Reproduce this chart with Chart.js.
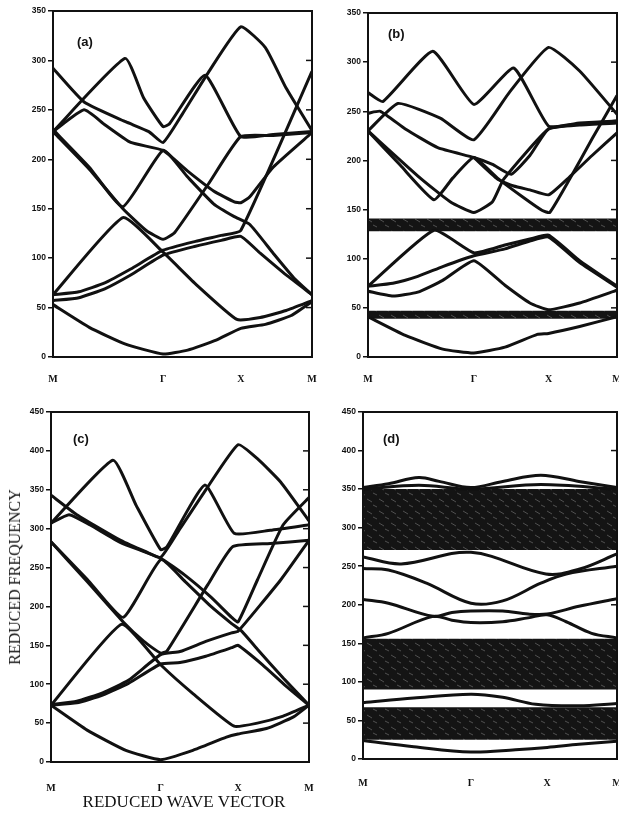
<!DOCTYPE html>
<html>
<head>
<meta charset="utf-8">
<script src="https://cdn.jsdelivr.net/npm/chart.js@4"></script>
<style>
  body { margin: 0; background: #fff; }
  #wrap { position: relative; width: 619px; height: 818px; overflow: hidden; background: #fff; }
  canvas { position: absolute; }
  .axt { position: absolute; font: 16px "Liberation Serif", serif; color: #111; white-space: nowrap; }
</style>
</head>
<body>
<div id="wrap">
  <canvas id="ca" width="300" height="390" style="left:20px;top:0px"></canvas>
  <canvas id="cb" width="289" height="390" style="left:330px;top:0px"></canvas>
  <canvas id="cc" width="300" height="400" style="left:20px;top:400px"></canvas>
  <canvas id="cd" width="289" height="400" style="left:330px;top:400px"></canvas>
  <div class="axt" style="left:15px;top:577px;transform:translate(-50%,-50%) rotate(-90deg)">REDUCED FREQUENCY</div>
  <div class="axt" style="left:184px;top:802px;font-size:17px;transform:translate(-50%,-50%)">REDUCED WAVE VECTOR</div>
</div>
<script>
// k-path (M - Γ - X - M), positions along the reduced wave vector
const kLabels = ['M', 'Γ', 'X', 'M'];
const kPos = [0, 0.425, 0.725, 1];
const freqTicksAB = [0, 50, 100, 150, 200, 250, 300, 350];
const freqTicksCD = [0, 50, 100, 150, 200, 250, 300, 350, 400, 450];

// (a) bands  [k, frequency]
const a01 = [[0,53],[0.14,30],[0.28,13],[0.425,3],[0.52,7],[0.63,17],[0.725,29],[0.82,33],[0.92,42],[1,56]];
const a02 = [[0,63],[0.27,141],[0.425,106],[0.55,74],[0.71,38],[0.8,40],[0.9,47],[1,57]];
const a03 = [[0,57],[0.1,60],[0.2,69],[0.3,83],[0.425,103],[0.55,112],[0.65,118],[0.725,122],[0.8,105],[0.9,83],[1,63]];
const a04 = [[0,63],[0.1,66],[0.2,75],[0.3,89],[0.425,108],[0.55,117],[0.65,123],[0.725,128],[1,289]];
const a05 = [[0,228],[0.12,250],[0.2,235],[0.3,217],[0.425,209],[0.52,188],[0.62,168],[0.7,157],[0.725,156],[0.76,162],[0.85,192],[1,227]];
const a06 = [[0,230],[0.14,192],[0.27,152],[0.425,209],[0.52,182],[0.62,155],[0.7,142],[0.76,134],[0.85,105],[0.93,80],[1,63]];
const a07 = [[0,228],[0.14,190],[0.27,150],[0.36,128],[0.425,119],[0.47,126],[0.6,175],[0.725,223],[0.85,224],[1,227]];
const a08 = [[0,228],[0.278,302],[0.35,262],[0.425,233],[0.45,236],[0.587,285],[0.725,223],[0.85,225],[1,228]];
const a09 = [[0,292],[0.12,258],[0.28,238],[0.37,228],[0.425,217],[0.5,246],[0.6,288],[0.725,334],[0.82,313],[0.9,272],[1,229]];

// (b) bands and gaps
const b01 = [[0,41],[0.15,22],[0.3,8],[0.425,4],[0.55,10],[0.68,23],[0.725,24],[0.85,31],[1,41]];
const b02 = [[0,67],[0.1,62],[0.2,66],[0.3,78],[0.425,98],[0.55,73],[0.65,55],[0.725,48],[0.85,55],[1,68]];
const b03 = [[0,72],[0.265,129],[0.425,106],[0.55,114],[0.65,120],[0.725,124],[0.85,98],[1,72]];
const b04 = [[0,72],[0.1,75],[0.2,82],[0.3,92],[0.425,103],[0.55,110],[0.65,118],[0.725,122],[0.85,96],[1,71]];
const b05 = [[0,230],[0.13,195],[0.265,160],[0.34,182],[0.425,203],[0.52,182],[0.62,163],[0.7,149],[0.73,147],[0.81,181],[0.9,222],[1,266]];
const b06 = [[0,230],[0.21,182],[0.33,158],[0.425,147],[0.5,158],[0.545,181],[0.725,232],[0.85,237],[1,240]];
const b07 = [[0,248],[0.05,250],[0.15,232],[0.28,213],[0.425,203],[0.5,196],[0.575,186],[0.65,205],[0.725,232],[0.85,236],[1,238]];
const b08 = [[0.425,203],[0.52,181],[0.585,174],[0.65,170],[0.725,165],[0.8,181],[0.9,205],[1,228]];
const b09 = [[0,230],[0.12,258],[0.29,243],[0.425,221],[0.57,270],[0.725,315],[0.85,291],[1,247]];
const b10 = [[0,269],[0.06,260],[0.26,311],[0.425,257],[0.585,294],[0.725,235],[0.85,238],[1,240]];
const bGaps = [[39,47],[128,141]];

// (c) bands
const c01 = [[0,73],[0.14,41],[0.29,15],[0.425,3],[0.55,15],[0.68,32],[0.725,36],[0.835,43],[0.94,58],[1,73]];
const c02 = [[0,73],[0.273,177],[0.425,125],[0.55,88],[0.71,46],[0.8,50],[0.9,59],[1,73]];
const c03 = [[0,73],[0.1,76],[0.2,86],[0.3,101],[0.425,126],[0.5,128],[0.6,136],[0.7,147],[0.725,150],[0.82,125],[0.91,98],[1,73]];
const c04 = [[0,74],[0.1,78],[0.2,89],[0.3,105],[0.425,138],[0.5,142],[0.6,155],[0.7,166],[0.725,168],[0.89,234],[1,285]];
const c05 = [[0,307],[0.07,318],[0.15,305],[0.27,282],[0.425,262],[0.52,240],[0.62,212],[0.7,186],[0.725,180],[0.8,234],[0.9,305],[1,340]];
const c06 = [[0,283],[0.14,235],[0.28,186],[0.425,260],[0.52,232],[0.62,200],[0.7,178],[0.74,168],[0.8,145],[0.9,108],[1,73]];
const c07 = [[0,283],[0.14,232],[0.28,180],[0.36,155],[0.425,140],[0.45,143],[0.608,228],[0.705,277],[0.85,281],[1,285]];
const c08 = [[0,307],[0.24,388],[0.33,330],[0.425,273],[0.45,277],[0.596,356],[0.71,294],[0.85,298],[1,305]];
const c09 = [[0,343],[0.1,318],[0.27,285],[0.37,270],[0.425,263],[0.5,300],[0.6,350],[0.725,408],[0.8,390],[0.89,360],[1,310]];

// (d) bands and shaded continua
const d01 = [[0,24],[0.2,16],[0.425,9],[0.6,12],[0.725,15],[0.85,19],[1,23]];
const d02 = [[0,73],[0.2,79],[0.425,84],[0.55,80],[0.68,71],[0.85,69],[1,72]];
const d03 = [[0,157],[0.1,163],[0.276,185],[0.35,180],[0.425,177],[0.55,178],[0.65,183],[0.725,187],[0.8,178],[0.9,163],[1,157]];
const d04 = [[0,207],[0.1,202],[0.276,185],[0.35,190],[0.425,192],[0.55,192],[0.65,188],[0.725,188],[0.85,198],[1,208]];
const d05 = [[0,247],[0.1,245],[0.25,228],[0.425,202],[0.55,205],[0.7,228],[0.8,240],[1,250]];
const d06 = [[0,262],[0.15,253],[0.425,268],[0.72,240],[0.85,246],[1,266]];
const d07 = [[0,352],[0.1,357],[0.22,365],[0.3,360],[0.425,352],[0.55,360],[0.7,368],[0.85,360],[1,352]];
const d08 = [[0,350],[0.22,355],[0.425,350],[0.7,356],[1,350]];
const dBands = [[25,67],[90,156],[271,350]];

const framePlugin = {
  id: 'frame',
  afterDraw(chart, args, opts) {
    const { ctx, chartArea: { left, top, right, bottom }, scales: { y } } = chart;
    ctx.save();
    ctx.strokeStyle = '#111';
    ctx.lineWidth = 2;
    ctx.strokeRect(left, top, right - left, bottom - top);

    // little inward ticks on the right edge
    ctx.lineWidth = 1.5;
    (opts.inner || []).forEach((v) => {
      const py = y.getPixelForValue(v);
      ctx.beginPath(); ctx.moveTo(right - 6, py); ctx.lineTo(right, py); ctx.stroke();
    });

    ctx.fillStyle = '#111';
    ctx.font = 'bold 13px "Liberation Sans", sans-serif';
    ctx.fillText(opts.tag, left + opts.tx, top + opts.ty);
    ctx.restore();
  },
};

function hatchFor(canvasId) {
  const tile = document.createElement('canvas');
  tile.width = 12; tile.height = 12;
  const g = tile.getContext('2d');
  g.fillStyle = '#141414';
  g.fillRect(0, 0, 12, 12);
  g.strokeStyle = 'rgba(170,170,170,0.4)';
  g.lineWidth = 1;
  g.beginPath(); g.moveTo(1, 3); g.lineTo(6, 6); g.stroke();
  g.beginPath(); g.moveTo(7, 9); g.lineTo(11, 11); g.stroke();
  return document.getElementById(canvasId).getContext('2d').createPattern(tile, 'repeat');
}

const toXY = (arr) => arr.map(([x, y]) => ({ x, y }));

function bandLine(arr, tension) {
  return {
    data: toXY(arr),
    showLine: true,
    borderColor: '#111',
    borderWidth: 3,
    pointRadius: 0,
    tension: tension,
    fill: false,
    order: 1,
  };
}

function gapSets(gaps, pattern) {
  const sets = [];
  gaps.forEach(([lo, hi]) => {
    sets.push({
      data: toXY([[0, lo], [1, lo]]), showLine: true, pointRadius: 0,
      borderColor: 'rgba(0,0,0,0)', borderWidth: 1, fill: false, order: 5,
    });
    sets.push({
      data: toXY([[0, hi], [1, hi]]), showLine: true, pointRadius: 0,
      borderColor: 'rgba(0,0,0,0)', borderWidth: 1, fill: '-1',
      backgroundColor: pattern, order: 5,
    });
  });
  return sets;
}

function renderPanel(canvasId, p) {
  const ctx = document.getElementById(canvasId).getContext('2d');
  const datasets = gapSets(p.gaps, hatchFor(canvasId))
    .concat(p.bands.map((b) => bandLine(b, p.tension)));

  return new Chart(ctx, {
    type: 'scatter',
    plugins: [framePlugin],
    data: { datasets },
    options: {
      responsive: false,
      animation: false,
      events: [],
      layout: { padding: { top: p.padTop, right: p.padRight, left: 0, bottom: 0 }, autoPadding: false },
      plugins: {
        legend: { display: false },
        tooltip: { enabled: false },
        frame: { tag: p.tag, tx: p.tx, ty: p.ty, inner: p.inner },
      },
      scales: {
        x: {
          type: 'linear', min: 0, max: 1,
          afterBuildTicks: (s) => { s.ticks = kPos.map((v) => ({ value: v })); },
          afterFit: (s) => { s.height = p.xH; },
          // invisible tick marks push the labels down without widening the side padding
          grid: { display: true, drawOnChartArea: false, drawTicks: true, tickLength: p.xPad + 6, color: 'rgba(0,0,0,0)' },
          border: { display: false },
          ticks: {
            autoSkip: false, maxRotation: 0, padding: -6, color: '#111',
            font: { family: '"Liberation Serif", serif', size: 10, weight: 'bold' },
            callback: (v, i) => kLabels[i],
          },
        },
        y: {
          min: 0, max: p.ticks[p.ticks.length - 1],
          afterBuildTicks: (s) => { s.ticks = p.ticks.map((v) => ({ value: v })); },
          afterFit: (s) => { s.width = p.yW; },
          grid: { drawOnChartArea: false, tickLength: 5, color: '#111', lineWidth: 1.5 },
          border: { display: false },
          ticks: {
            padding: 2, color: '#111',
            font: { family: '"Liberation Sans", sans-serif', size: 8.5, weight: 'bold' },
          },
        },
      },
    },
  });
}

renderPanel('ca', {
  bands: [a01, a02, a03, a04, a05, a06, a07, a08, a09], gaps: [], tension: 0.15,
  ticks: freqTicksAB, inner: freqTicksAB.slice(1, -1),
  yW: 33, xH: 33, padTop: 11, padRight: 8, xPad: 16, tag: '(a)', tx: 24, ty: 35,
});
renderPanel('cb', {
  bands: [b01, b02, b03, b04, b05, b06, b07, b08, b09, b10], gaps: bGaps, tension: 0.15,
  ticks: freqTicksAB, inner: freqTicksAB.slice(1, -1),
  yW: 38, xH: 33, padTop: 13, padRight: 2, xPad: 16, tag: '(b)', tx: 20, ty: 25,
});
renderPanel('cc', {
  bands: [c01, c02, c03, c04, c05, c06, c07, c08, c09], gaps: [], tension: 0.15,
  ticks: freqTicksCD, inner: freqTicksCD.slice(1, -1),
  yW: 31, xH: 38, padTop: 12, padRight: 11, xPad: 20, tag: '(c)', tx: 22, ty: 31,
});
renderPanel('cd', {
  bands: [d01, d02, d03, d04, d05, d06, d07, d08], gaps: dBands, tension: 0.35,
  ticks: freqTicksCD, inner: [200, 400],
  yW: 33, xH: 41, padTop: 12, padRight: 2, xPad: 18, tag: '(d)', tx: 20, ty: 31,
});
</script>
</body>
</html>
